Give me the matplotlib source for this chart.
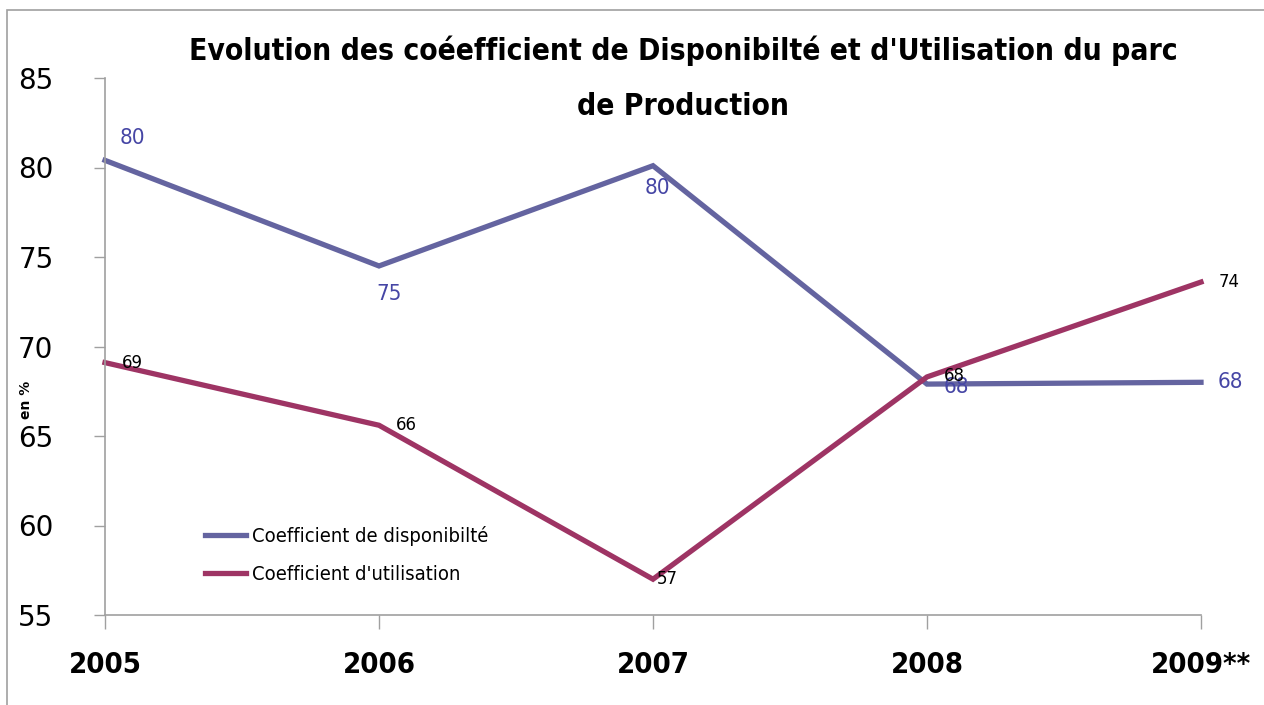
import matplotlib
matplotlib.use("Agg")
import matplotlib.pyplot as plt
from matplotlib.patches import Rectangle

# data
years = ["2005", "2006", "2007", "2008", "2009**"]
dispo = [80.4, 74.5, 80.1, 67.9, 68.0]
util = [69.1, 65.6, 57.0, 68.3, 73.6]
dispo_labels = ["80", "75", "80", "68", "68"]
util_labels = ["69", "66", "57", "68", "74"]

c_dispo = "#6464a0"
c_util = "#9e3464"
c_dlab = "#4646a5"

fig = plt.figure(figsize=(12.64, 7.05), dpi=100)
# outer frame of the chart area (cropped on the right/bottom)
fig.patches.append(Rectangle((7 / 1264, -0.1), 1.2, 1 - 10 / 705 + 0.1,
                             transform=fig.transFigure, fill=False,
                             edgecolor="#a0a0a0", linewidth=1.2))

ax = fig.add_axes([105 / 1264, 1 - 615 / 705, (1201 - 105) / 1264, (615 - 78) / 705])
x = list(range(len(years)))
ax.plot(x, dispo, color=c_dispo, linewidth=3.8, label="Coefficient de disponibilté",
        solid_joinstyle="miter", clip_on=False)
ax.plot(x, util, color=c_util, linewidth=3.8, label="Coefficient d'utilisation",
        solid_joinstyle="miter", clip_on=False)

ax.set_xlim(0, 4)
ax.set_ylim(55, 85)
ax.set_yticks(range(55, 90, 5))
ax.set_xticks(x)
ax.set_xticklabels(years, fontsize=21, fontweight="bold", fontstretch="condensed")
for lab in ax.get_yticklabels():
    lab.set_fontsize(20)
ax.tick_params(axis="y", length=8, width=1, color="#a0a0a0", pad=29)
ax.tick_params(axis="x", length=10, width=1, color="#a0a0a0", pad=16)
for s in ["top", "right"]:
    ax.spines[s].set_visible(False)
for s in ["left", "bottom"]:
    ax.spines[s].set_color("#a0a0a0")
    ax.spines[s].set_linewidth(1.2)

fig.text(26 / 1264, 1 - 400 / 705, "en %", rotation=90, ha="center", va="center",
         fontsize=10, fontweight="bold")

# data labels
d_off = [(20, 16), (7, -20), (3, -16), (21, -2), (21, 0)]
u_off = [(20, 0), (20, 0), (10, 0), (20, 1), (20, 0)]
for i in x:
    ax.annotate(dispo_labels[i], (i, dispo[i]), xytext=d_off[i], textcoords="offset points",
                ha="center", va="center", color=c_dlab, fontsize=16,
                fontstretch="condensed")
    ax.annotate(util_labels[i], (i, util[i]), xytext=u_off[i], textcoords="offset points",
                ha="center", va="center", color="black", fontsize=12)

ax.legend(loc="upper left", bbox_to_anchor=(0.075, 0.2), frameon=False,
          prop={"size": 14.5, "stretch": "condensed"}, handlelength=2.0,
          handletextpad=0.3, labelspacing=0.95)

fig.text(683 / 1264, 1 - 78 / 705,
         "Evolution des coéefficient de Disponibilté et d'Utilisation du parc\nde Production",
         ha="center", va="center", fontsize=21.5, fontweight="bold",
         fontstretch="condensed", linespacing=2.15)

fig.savefig("out.png", dpi=100)
